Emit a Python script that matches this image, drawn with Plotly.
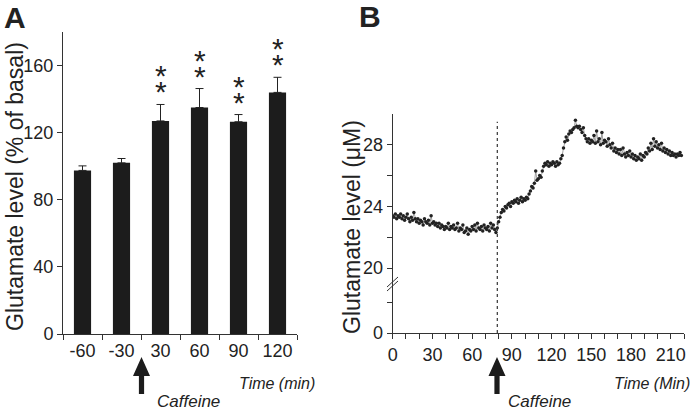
import plotly.graph_objects as go

# ---------------- Data ----------------
# Panel A
time_labels_a = ["-60", "-30", "30", "60", "90", "120"]
glu_pct = [97.5, 102.0, 127.0, 135.0, 126.5, 144.0]
glu_pct_err = [2.7, 2.6, 9.8, 11.3, 4.3, 9.0]
significant = [False, False, True, True, True, True]

# Panel B (sampled each minute, glutamate in µM)
time_b = list(range(0, 219))
glu_um = [
    23.4, 23.3, 23.5, 23.2, 23.4, 23.3, 23.5, 23.2, 23.4, 23.1, 23.3,
    23.5, 23.2, 23.0, 23.3, 23.1, 23.6, 23.2, 23.0, 23.2, 22.9,
    23.1, 23.0, 22.8, 23.2, 23.0, 22.9, 23.1, 22.8, 23.4, 22.9,
    23.0, 22.8, 22.9, 22.7, 22.9, 22.6, 22.8, 22.7, 22.5, 22.7,
    22.6, 22.9, 22.5, 22.7, 22.6, 22.8, 22.5, 22.6, 22.9, 22.4,
    22.6, 22.5, 22.8, 22.3, 22.4, 22.6, 22.2, 22.5, 22.4, 22.7,
    22.5, 22.8, 22.4, 22.9, 22.6, 22.5, 22.7, 22.4, 22.8, 22.6,
    22.5, 22.7, 22.4, 22.9, 22.6, 22.8, 22.5, 22.3, 22.6, 23.0,
    23.3, 23.6, 23.8, 23.7, 24.0, 23.9, 24.1, 24.2, 24.0, 24.3,
    24.2, 24.4, 24.3, 24.5, 24.2, 24.4, 24.6, 24.3, 24.5, 24.4,
    24.6, 24.5, 24.8, 25.0, 25.3, 25.2, 25.5, 26.3, 25.7, 25.8,
    26.0, 25.9, 26.3, 26.6, 26.8, 26.7, 26.9, 26.6, 26.8, 26.7,
    26.9, 26.8, 26.6, 26.9, 26.7, 26.8, 27.1, 27.3, 27.8, 28.2,
    28.5, 28.3, 28.7, 28.9, 28.8, 29.0, 29.1, 29.6, 29.2, 29.1,
    29.2, 29.0, 28.8, 29.1, 28.6, 28.4, 28.2, 28.4, 28.1, 28.3,
    28.2, 28.6, 28.1, 28.9, 28.2, 28.4, 28.0, 28.8, 28.1, 28.3,
    28.2, 27.9, 28.4, 28.0, 27.8, 28.1, 27.6, 27.8, 27.5, 27.7,
    27.4, 27.7, 27.3, 27.8, 27.4, 27.2, 27.5, 27.3, 27.6, 27.2,
    27.4, 27.1, 27.3, 27.0, 27.2, 27.1, 27.4, 27.0, 27.3, 27.2,
    27.5, 27.4, 27.8, 27.6, 28.1, 27.7, 28.4, 27.9, 28.2, 27.8,
    28.0, 27.7, 28.1, 27.6, 27.8, 27.5, 27.7, 27.4, 27.6, 27.3,
    27.5, 27.3, 27.4, 27.2, 27.4, 27.3, 27.5, 27.3,
]
caffeine_time_b = 79

# broken y axis of panel B: the "0" tick sits just below the break
b_zero_pos = 15.78
b_tick_pos = [b_zero_pos, 20, 24, 28]
b_tick_text = ["0", "20", "24", "28"]
b_minor_pos = [17.73, 22, 26]

# ---------------- Layout helpers ----------------
W, H = 693, 412
FONT = "Liberation Sans, Arial, sans-serif"
TXT = "#222222"


def px(x):
    return x / W


def py(y):
    return 1 - y / H


fig = go.Figure()

# Panel A bars
fig.add_trace(go.Bar(
    x=time_labels_a, y=glu_pct, width=0.44,
    marker=dict(color="#1c1c1c", line=dict(width=0)),
    error_y=dict(type="data", array=glu_pct_err,
                 arrayminus=[0] * len(glu_pct_err), symmetric=False,
                 color="#222222", thickness=1, width=4),
    xaxis="x", yaxis="y", showlegend=False,
))

# Panel B trace
fig.add_trace(go.Scatter(
    x=time_b, y=glu_um, mode="lines+markers",
    line=dict(color="#8a8a8a", width=0.8),
    marker=dict(color="#222222", size=3.5),
    xaxis="x2", yaxis="y2", showlegend=False,
))

# dotted caffeine line in panel B
fig.add_trace(go.Scatter(
    x=[caffeine_time_b, caffeine_time_b], y=[b_zero_pos, 29.5],
    mode="lines", line=dict(color="#333333", width=1.2, dash="dot"),
    xaxis="x2", yaxis="y2", showlegend=False,
))

annotations = []
# significance stars (category index used for x): one text with two
# stacked large asterisks, line spacing set by the small base font
STAR = "<span style='font-size:30px'>*</span>"
for i, (v, e, s) in enumerate(zip(glu_pct, glu_pct_err, significant)):
    if s:
        annotations.append(dict(
            x=i, y=v + e, xref="x", yref="y", text=STAR + "<br>" + STAR,
            showarrow=False, yshift=-6, xanchor="center", yanchor="bottom",
            font=dict(family=FONT, size=12, color=TXT)))


def label(x, y, text, size, angle=0, xanchor="center"):
    return dict(x=px(x), y=py(y), xref="paper", yref="paper", text=text,
                textangle=angle, showarrow=False, xanchor=xanchor,
                yanchor="middle", font=dict(family=FONT, size=size, color=TXT))


annotations += [
    label(14.5, 17.5, "<b>A</b>", 30),
    label(370, 17, "<b>B</b>", 30),
    label(15, 187, "Glutamate level (% of basal)", 23, -90),
    label(352, 227, "Glutamate level (\u03bcM)", 23, -90),
    label(277, 383, "<i>Time (min)</i>", 16),
    label(188, 401, "<i>Caffeine</i>", 17),
    label(692, 383, "<i>Time (Min)</i>", 16, xanchor="right"),
    label(539, 401, "<i>Caffeine</i>", 17),
]


def arrow_path(cx, tip=357, base=376, bottom=394, hw=8.5, sw=2.6):
    pts = [(cx, tip), (cx + hw, base), (cx + sw, base), (cx + sw, bottom),
           (cx - sw, bottom), (cx - sw, base), (cx - hw, base)]
    return "M " + " L ".join(f"{px(a):.5f},{py(b):.5f}" for a, b in pts) + " Z"


shapes = [
    dict(type="path", path=arrow_path(141.5), xref="paper", yref="paper",
         fillcolor="#1c1c1c", line=dict(width=0)),
    dict(type="path", path=arrow_path(497), xref="paper", yref="paper",
         fillcolor="#1c1c1c", line=dict(width=0)),
    # axis break marks on panel B y axis
    dict(type="line", xref="paper", yref="paper", x0=px(387), y0=py(291),
         x1=px(398), y1=py(281), line=dict(color="#333333", width=1)),
    dict(type="line", xref="paper", yref="paper", x0=px(387), y0=py(287),
         x1=px(398), y1=py(277), line=dict(color="#333333", width=1)),
]

axis_common = dict(showgrid=False, zeroline=False, showline=True,
                   linecolor="#333333", linewidth=1, ticks="outside",
                   ticklen=5, tickwidth=1, tickcolor="#333333", automargin=False,
                   tickangle=0,
                   tickfont=dict(family=FONT, size=18, color=TXT))

fig.update_layout(
    width=W, height=H, margin=dict(l=0, r=0, t=0, b=0, pad=0, autoexpand=False),
    paper_bgcolor="white", plot_bgcolor="white",
    xaxis=dict(domain=[px(63), px(297)], anchor="y", type="category",
               tickson="boundaries", range=[-0.5, 5.5], **axis_common),
    yaxis=dict(domain=[py(334), py(32)], anchor="x", range=[0, 180],
               tickvals=[0, 40, 80, 120, 160], **axis_common),
    xaxis2=dict(domain=[px(392.7), px(684)], anchor="y2", range=[0, 220],
                tickvals=[0, 30, 60, 90, 120, 150, 180, 210],
                minor=dict(dtick=10, tick0=0, ticks="outside", ticklen=5,
                           tickcolor="#333333"),
                **axis_common),
    yaxis2=dict(domain=[py(333), py(114)], anchor="x2", range=[b_zero_pos, 30],
                tickvals=b_tick_pos, ticktext=b_tick_text,
                minor=dict(tickvals=b_minor_pos, ticks="outside", ticklen=5,
                           tickcolor="#333333"),
                **axis_common),
    annotations=annotations, shapes=shapes,
)

fig.write_html("out.html",
               config={"displayModeBar": False},
               post_script="document.body.style.margin='0';"
                           "document.body.style.overflow='hidden';")
